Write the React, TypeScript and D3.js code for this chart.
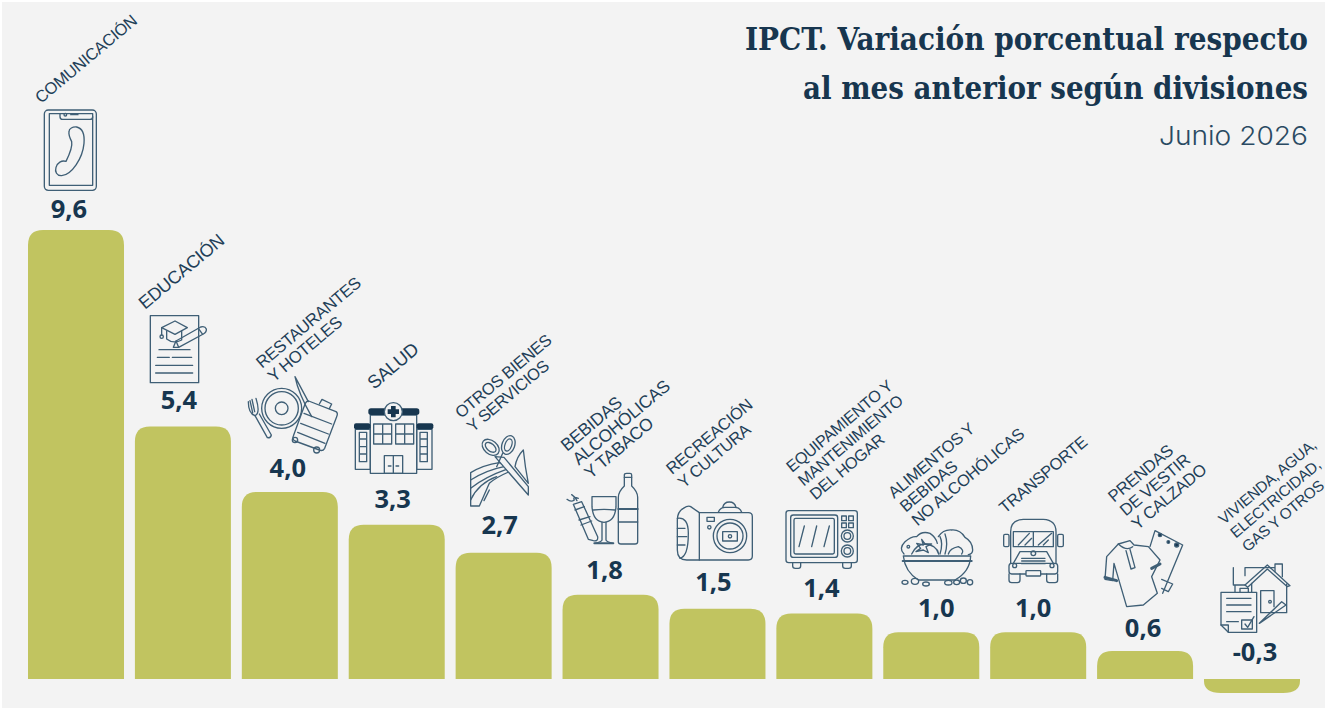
import React from "react";
import * as d3 from "d3";

const titleLines = ["IPCT. Variación porcentual respecto", "al mes anterior según divisiones"];
const subtitle = "Junio 2026";
const divisions = ["COM","EDU","RES","SAL","OTR","BEB","REC","EQU","ALI","TRA","PRE","VIV"];
const values = [9.6, 5.4, 4.0, 3.3, 2.7, 1.8, 1.5, 1.4, 1.0, 1.0, 0.6, -0.3];
const labelLines = [
  ["COMUNICACIÓN"],
  ["EDUCACIÓN"],
  ["RESTAURANTES", "Y HOTELES"],
  ["SALUD"],
  ["OTROS BIENES", "Y SERVICIOS"],
  ["BEBIDAS", "ALCOHÓLICAS", "Y TABACO"],
  ["RECREACIÓN", "Y CULTURA"],
  ["EQUIPAMIENTO Y", "MANTENIMIENTO", "DEL HOGAR"],
  ["ALIMENTOS Y", "BEBIDAS", "NO ALCOHÓLICAS"],
  ["TRANSPORTE"],
  ["PRENDAS", "DE VESTIR", "Y CALZADO"],
  ["VIVIENDA, AGUA,", "ELECTRICIDAD,", "GAS Y OTROS"],
];

// layout, kept apart from the data
const W = 1326, H = 708;
const labelAnchors = [[41,104],[145,310],[262,369],[374,390],[461,419],[567,452],[672,475],[792,473],[894,499],[1005,514],[1114,503],[1224,525]];
const labelSizes = [16.5,18,16.8,18.5,16.5,17.5,16.5,16.2,16.5,16.5,16.8,15.35];
const valueDx = [-7,-4,-2,-4,-4,-6,-4,-3,5,-5,-2,3];
const valueGap = [12,17,15,17,19,16,18,17,15,15,14,18];
const INK = "#17364f", LINE = "#3f5f76", BAR = "#c1c460", BG = "#f3f3f3", LABEL = "#1f3f58";

const x = d3.scaleBand<string>().domain(divisions).range([28, 1300]).paddingInner(0.102);
const y = d3.scaleLinear().domain([0, 9.6]).range([679, 230]);
const fmt = (v: number) => v.toFixed(1).replace(".", ",");

function barPath(left: number, w: number, v: number) {
  const r = 15;
  const p = d3.path();
  const y0 = y(0), y1 = y(v);
  if (v >= 0) {
    p.moveTo(left, y0); p.lineTo(left, y1 + r);
    p.quadraticCurveTo(left, y1, left + r, y1); p.lineTo(left + w - r, y1);
    p.quadraticCurveTo(left + w, y1, left + w, y1 + r); p.lineTo(left + w, y0);
  } else {
    p.moveTo(left, y0); p.lineTo(left, y0 + 2);
    p.quadraticCurveTo(left, y1, left + r + 2, y1); p.lineTo(left + w - r - 2, y1);
    p.quadraticCurveTo(left + w, y1, left + w, y0 + 2); p.lineTo(left + w, y0);
  }
  p.closePath();
  return p.toString();
}

const Icon = ({ ox, oy, children }: any) => (
  <g transform={`translate(${ox},${oy}) scale(${1 / 3})`} fill="none" stroke={LINE} strokeWidth={4} strokeLinejoin="round" strokeLinecap="round">
    {children}
  </g>
);

const Phone = () => (
  <Icon ox={0} oy={0}>
    <rect x={133} y={330} width={156} height={241} rx={12} />
    <path d="M148 341H278V556H148Z" />
    <path d="M180 341V350Q180 358 188 358H270Q278 358 278 350" />
    <circle cx={196} cy={344} r={4} /><path d="M212 344H234" />
    <path d="M207 395C207 385 218 380 230 381C248 385 254 405 252 430C248 475 215 525 185 527C170 528 164 515 168 502C172 488 185 480 198 484C205 470 218 440 215 425C210 415 205 405 207 395Z" />
  </Icon>
);
const Education = () => (
  <Icon ox={140} oy={305}>
    <rect x={31} y={32} width={145} height={201} />
    <path d="M65 68L105 48L142 68L105 88Z" />
    <path d="M80 78V102Q100 118 125 105V78" />
    <path d="M65 68V90" /><circle cx={65} cy={95} r={5} />
    <path d="M100 127L108 108L182 66Q195 62 199 72Q200 82 190 87L116 127Z" />
    <path d="M108 108L116 127M175 70L188 88" />
    <path d="M57 134H150M52 157H88M97 157H155M47 181H158M47 204H158" />
  </Icon>
);
const Restaurant = () => (
  <Icon ox={230} oy={270}>
    <circle cx={155} cy={415} r={60} /><circle cx={155} cy={415} r={50} /><circle cx={155} cy={415} r={19} />
    <path d="M55 395Q55 430 75 437Q92 430 78 385M66 388L74 425M60 392L68 428" />
    <path d="M75 437L112 503Q122 505 124 495L88 432" />
    <path d="M236 393L318 425Q325 430 320 440L284 535Q278 545 268 540L195 513Q186 508 190 498L226 400Q230 392 236 393Z" fill={BG} />
    <path d="M222 430L305 462M212 460L295 492M203 487L285 520" />
    <path d="M268 402L276 388L305 402L298 416" />
    <circle cx={195} cy={510} r={8} /><circle cx={260} cy={540} r={9} />
    <path d="M195 320Q205 370 245 440M195 320L235 395" />
  </Icon>
);
const Hospital = () => (
  <Icon ox={230} oy={270}>
    <path d="M421 435H560V610H421Z" />
    <path d="M376 478H421V598H376ZM560 478H606V598H560Z" />
    <rect x={415} y={415} width={153} height={20} rx={8} fill={INK} stroke="none" />
    <rect x={372} y={460} width={49} height={18} rx={6} fill={INK} stroke="none" />
    <rect x={560} y={460} width={50} height={18} rx={6} fill={INK} stroke="none" />
    <circle cx={490} cy={425} r={27} fill={BG} />
    <path d="M483 408H497V418H507V432H497V442H483V432H473V418H483Z" fill={INK} stroke="none" />
    <path d="M431 462H485V522H431ZM458 462V522M431 492H485M497 462H551V522H497ZM524 462V522M497 492H551" />
    <path d="M463 557H518V610H463ZM490 557V610M475 588H483M498 588H506" />
    <path d="M388 487H410V575H388ZM388 507H410M388 530H410M388 552H410M570 487H592V575H570ZM570 507H592M570 530H592M570 552H592" />
  </Icon>
);
const Scissors = () => (
  <Icon ox={230} oy={270}>
    <ellipse cx={782} cy={532} rx={29} ry={20} transform="rotate(40 782 532)" />
    <ellipse cx={782} cy={532} rx={19} ry={11} transform="rotate(40 782 532)" />
    <ellipse cx={835} cy={525} rx={29} ry={19} transform="rotate(-70 835 525)" />
    <ellipse cx={835} cy={525} rx={19} ry={10} transform="rotate(-70 835 525)" />
    <path d="M880 540Q860 560 855 590L895 640Q885 590 880 540Z" />
    <path d="M722 608Q760 585 808 578L850 600Q800 620 778 640L748 708H722Z" fill={BG} />
    <path d="M722 630Q770 600 822 590M722 655Q762 622 835 596M722 690Q745 640 800 620M762 692L778 660" />
    <path d="M795 560L895 675V650L822 562Z" fill={BG} />
    <path d="M818 550L800 590" />
  </Icon>
);
const Drinks = () => (
  <Icon ox={555} oy={460}>
    <path d="M208 45Q208 40 215 40H225Q230 40 230 45V78Q248 95 248 112V245Q248 252 240 252H198Q190 252 190 245V112Q190 95 208 78Z" />
    <path d="M208 52H230M190 186H248" />
    <path d="M190 147H248" strokeWidth={6} />
    <path d="M111 110H183V140Q180 185 147 187Q114 185 111 140Z" />
    <path d="M115 150Q147 146 180 150" />
    <path d="M141 187V240Q141 245 120 250M153 187V240Q153 245 174 250" />
    <path d="M118 250H175" strokeWidth={6} />
    <path d="M55 133L80 125L128 230Q130 245 115 242L100 238Z" />
    <path d="M60 150L88 140M72 180L105 170M78 195L110 183" />
    <path d="M36 118Q48 128 58 120Q52 108 70 115M50 104Q62 112 66 122" />
  </Icon>
);
const Camera = () => (
  <Icon ox={650} oy={380}>
    <path d="M148 398H295Q307 398 307 410V528Q307 540 295 540H110Q82 540 82 510V420Q82 395 100 385Q115 375 122 380L148 398Z" />
    <path d="M82 415Q115 410 115 460Q115 530 90 535M82 445H105M82 470H110M82 495H105M148 398V540" />
    <circle cx={240} cy={468} r={50} /><circle cx={240} cy={468} r={39} />
    <rect x={218} y={455} width={44} height={28} /><circle cx={240} cy={469} r={5} />
    <rect x={171} y={412} width={22} height={12} /><circle cx={178} cy={442} r={5} />
    <path d="M205 397Q210 382 225 382H255Q270 382 275 397M218 382Q222 366 238 366Q254 366 258 382" />
  </Icon>
);
const Microwave = () => (
  <Icon ox={650} oy={380}>
    <rect x={408} y={392} width={214} height={156} rx={8} />
    <rect x={422} y={405} width={141} height={127} rx={8} />
    <rect x={432} y={415} width={121} height={107} rx={5} />
    <path d="M463 438L447 500M500 438L485 500M538 438L522 500" />
    <rect x={575} y={408} width={14} height={14} /><rect x={596} y={408} width={14} height={14} />
    <rect x={575} y={429} width={14} height={14} /><rect x={596} y={429} width={14} height={14} />
    <circle cx={592} cy={468} r={18} /><circle cx={592} cy={468} r={10} />
    <circle cx={592} cy={513} r={18} /><circle cx={592} cy={513} r={10} />
    <path d="M428 548V558Q428 565 436 565H445Q452 565 452 558V548M578 548V558Q578 565 586 565H596Q604 565 604 558V548" />
  </Icon>
);
const Salad = () => (
  <Icon ox={650} oy={380}>
    <path d="M760 528H962Q960 575 915 600H805Q765 575 760 528Z" />
    <path d="M758 543H965" strokeWidth={6} />
    <path d="M762 522Q745 505 765 485Q785 468 800 470Q815 452 840 460Q858 472 862 490" />
    <path d="M785 522Q800 492 825 492Q860 495 866 522" />
    <path d="M815 478L820 495L800 490L812 505L798 515L820 510L835 518L828 500L845 492L825 492Z" />
    <path d="M865 470Q880 448 905 450Q930 448 945 472Q968 485 968 510Q968 522 955 524" />
    <path d="M870 470Q880 490 870 522M885 462Q895 490 885 522M895 522Q900 505 925 500Q945 510 935 522" />
    <circle cx={775} cy={500} r={4} />
    <ellipse cx={765} cy={607} rx={9} ry={6} /><ellipse cx={795} cy={604} rx={11} ry={9} />
    <ellipse cx={828} cy={612} rx={10} ry={6} /><ellipse cx={895} cy={608} rx={11} ry={7} />
    <ellipse cx={920} cy={607} rx={9} ry={7} /><ellipse cx={940} cy={602} rx={9} ry={8} /><ellipse cx={960} cy={607} rx={8} ry={8} />
  </Icon>
);
const Bus = () => (
  <Icon ox={980} oy={420}>
    <path d="M92 430V335Q92 300 130 298H190Q228 300 228 335V430" />
    <path d="M100 335H220V380H100ZM160 335V380" />
    <path d="M115 375L148 340M135 375L155 355M175 375L215 340M190 375L205 360" />
    <rect x={71} y={343} width={16} height={37} rx={4} /><rect x={233} y={343} width={17} height={37} rx={4} />
    <path d="M100 430L120 395H200L220 430M125 415H195M125 423H195M125 431H195" />
    <circle cx={160} cy={400} r={7} />
    <rect x={87} y={430} width={146} height={32} rx={8} />
    <rect x={138} y={452} width={44} height={16} rx={2} fill={BG} />
    <circle cx={104} cy={437} r={6} /><circle cx={216} cy={437} r={6} />
    <path d="M87 462V480Q87 488 95 488H112Q120 488 120 480V462M200 462V480Q200 488 208 488H225Q233 488 233 480V462" />
  </Icon>
);
const Clothes = () => (
  <Icon ox={980} oy={420}>
    <path d="M510 380L525 332L608 375L548 520M545 478L578 492L565 515L545 505" />
    <path d="M380 410L415 372L450 362L462 375L505 380L540 420L515 470L532 520L490 555L440 560L402 430L398 482L375 478Z" fill={BG} />
    <path d="M375 472L410 482" strokeWidth={9} />
    <path d="M515 445L540 432" strokeWidth={9} />
    <path d="M415 372Q440 395 458 380M438 392L453 447L465 443L450 388" />
    <circle cx={540} cy={345} r={5} fill={INK} /><circle cx={565} cy={366} r={4} fill={INK} /><circle cx={590} cy={375} r={6} fill={INK} />
  </Icon>
);
const Housing = () => (
  <Icon ox={980} oy={420}>
    <path d="M795 467V443H885M885 455V432H907V470M760 443V495H795M765 495V517M780 517V505H805V517" />
    <path d="M795 495L862 435L930 497L922 500L862 447L803 502Z" />
    <path d="M815 490V517M920 492V578H845M842 578V512H882V560" />
    <circle cx={870} cy={545} r={4} />
    <path d="M723 517H830V637H745L723 615Z" fill={BG} />
    <path d="M723 615H745V637M740 535H813M740 555H813M740 575H813M740 605H775" />
    <path d="M785 600H817V627H785Z" /><path d="M795 612L803 622L822 590" />
    <path d="M838 610L905 545L918 555L850 602ZM838 610L850 602" />
  </Icon>
);
const icons = [Phone, Education, Restaurant, Hospital, Scissors, Drinks, Camera, Microwave, Salad, Bus, Clothes, Housing];

export default function App() {
  return (
    <svg width={W} height={H} viewBox={`0 0 ${W} ${H}`} style={{ position: "absolute", left: 0, top: 0, display: "block", background: "#fff" }}>
      <rect x={2} y={2} width={W - 3} height={H - 2} fill={BG} />
      {divisions.map((d, i) => (
        <path key={d} d={barPath(x(d)!, x.bandwidth(), values[i])} fill={BAR} />
      ))}
      {icons.map((Ic, i) => <Ic key={i} />)}
      {divisions.map((d, i) => (
        <text key={d} x={x(d)! + x.bandwidth() / 2 + valueDx[i]} y={(values[i] >= 0 ? y(values[i]) : y(0)) - valueGap[i]}
          textAnchor="middle" fontFamily="'Noto Sans', sans-serif" fontWeight={700} fontSize={25.5} fill={INK}>{fmt(values[i])}</text>
      ))}
      {labelLines.map((lines, i) => (
        <g key={i} fontFamily="'Liberation Sans', Arial, sans-serif" fontSize={labelSizes[i]} letterSpacing={-0.35} fill={LABEL}>
          {lines.map((t, j) => {
            const lx = labelAnchors[i][0] + j * 11.7, ly = labelAnchors[i][1] + j * 13.7;
            return <text key={j} transform={`translate(${lx},${ly}) rotate(-40)`}>{t}</text>;
          })}
        </g>
      ))}
      <g textAnchor="end" fill={INK}>
        {titleLines.map((t, i) => (
          <text key={t} x={1308} y={50 + i * 49} fontFamily="'DejaVu Serif Condensed', 'DejaVu Serif', serif" fontWeight={700} fontSize={31.5}
            textLength={i === 0 ? 563 : 505} lengthAdjust="spacingAndGlyphs">{t}</text>
        ))}
        <text x={1308} y={145} fontFamily="Inter, Lato, sans-serif" fontWeight={300} fontSize={26} fill="#2a4a62" textLength={149} lengthAdjust="spacingAndGlyphs">{subtitle}</text>
      </g>
    </svg>
  );
}
